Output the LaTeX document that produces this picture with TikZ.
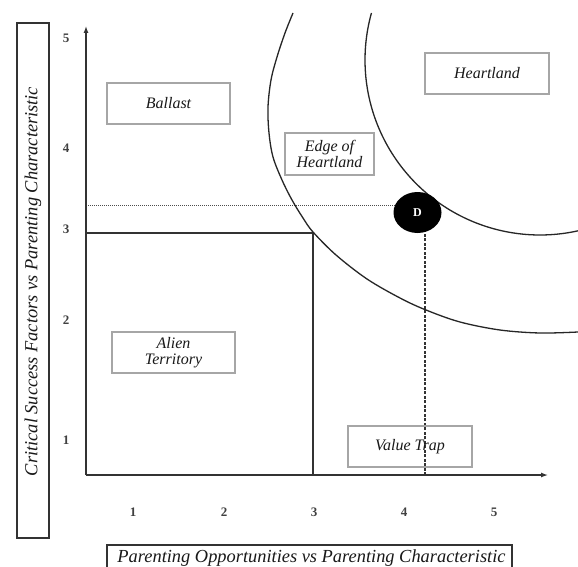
\documentclass[tikz,border=0pt]{standalone}
\usepackage{fontspec}
\setmainfont{Liberation Serif}
\usetikzlibrary{shapes.geometric,arrows.meta}
\pgfdeclarelayer{bg}
\pgfsetlayers{bg,main}
\begin{document}
\begin{tikzpicture}[x=1pt,y=-1pt,
  lbl/.style={draw=black!35, line width=1.2pt, font=\fontsize{16}{16}\selectfont\itshape, text=black!90, align=center, inner sep=0pt},
  axbox/.style={draw=black!80, line width=1.6pt, inner sep=0pt},
  axlbl/.style={font=\fontsize{18.4}{20}\selectfont\itshape, text=black!90, inner sep=0pt},
  tick/.style={font=\fontsize{13}{14}\selectfont\bfseries, text=black!75},
  axis/.style={draw=black!80, line width=1.3pt},
  zone/.style={draw=black!80, line width=1.3pt},
  arcline/.style={draw=black!85, line width=1.3pt},
  dotline/.style={draw=black!70, line width=1pt, dash pattern=on 1pt off 1pt},
  dashline/.style={draw=black!80, line width=1.2pt, dash pattern=on 3pt off 1.5pt},
]
\useasboundingbox (0,0) rectangle (578,567);
\clip (0,0) rectangle (578,567);

% axis label boxes
\node[axbox, rotate=90, minimum width=515, minimum height=32] (ylab) at (33,280.5) {};
\node[axlbl, rotate=90] (ylabtext) at (33,281.5) {Critical Success Factors vs Parenting Characteristic};
\node[axbox, anchor=north, minimum width=405, minimum height=40] (xlab) at (309.5,544) {};
\node[axlbl, anchor=base] (xlabtext) at (311.5,562) {Parenting Opportunities vs Parenting Characteristic};

% ticks
\foreach \v/\y in {5/38,4/148,3/229,2/320,1/440}
  \node[tick] (y\v) at (66,\y) {\v};
\foreach \v/\x in {1/133,2/224,3/314,4/404,5/494}
  \node[tick] (x\v) at (\x,512) {\v};

% axes
\coordinate (O) at (86,475);
\coordinate (ytop) at (86,26);
\coordinate (xend) at (548,475);
\draw[axis,-{Latex[length=7pt,width=5pt]}] (O) -- (ytop);
\draw[axis,-{Latex[length=7pt,width=5pt]}] (O) -- (xend);

% alien territory zone
\coordinate (z1) at (86,233);
\coordinate (z2) at (313,233);
\coordinate (z3) at (313,475);
\draw[zone] (z1) -- (z2) -- (z3);

% arcs
\draw[arcline] plot[domain=77.5:195.6, samples=90] ({540+175*cos(\x)},{60+175*sin(\x)});
\draw[arcline] plot[smooth, tension=0.55] coordinates {(293,13) (285,33) (277,57) (271,80) (268,107) (269,133) (273,157) (282,180) (292,200) (303,218) (313,232) (336,255) (367,279) (400,298) (426,310) (460,322) (500,330) (540,333) (578,332)};

% region labels
\node[lbl, minimum width=123, minimum height=41] (ballast) at (168.5,103.5) {Ballast};
\node[lbl, minimum width=124, minimum height=41] (heart) at (487,73.5) {Heartland};
\node[lbl, minimum width=89, minimum height=42] (edge) at (329.5,154) {Edge of\\Heartland};
\node[lbl, minimum width=123, minimum height=41] (alien) at (173.5,352.5) {Alien\\Territory};
\node[lbl, minimum width=124, minimum height=41] (trap) at (410,446.5) {Value Trap};

% D point
\node[ellipse, fill=black, minimum width=48, minimum height=41, inner sep=0pt, text=white, font=\fontsize{12}{12}\selectfont\bfseries] (D) at (417.5,212.5) {D};
\coordinate (dy) at (86,205);
\coordinate (dx) at (425,475);
\begin{pgfonlayer}{bg}
\fill[white] (0,0) rectangle (578,567);
\draw[dotline] (dy) -- (dy -| D.center);
\draw[dashline] (dx) -- (dx |- D.center);
\end{pgfonlayer}
\end{tikzpicture}
\end{document}
